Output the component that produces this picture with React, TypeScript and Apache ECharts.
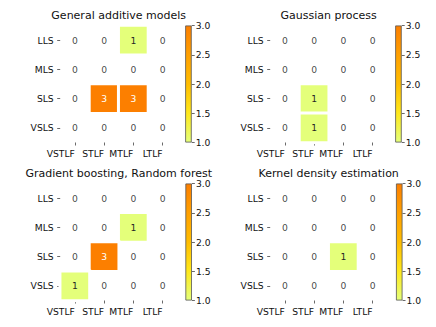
import React, { useEffect, useRef } from "react";
import * as echarts from "echarts";

const colLabels = ["VSTLF", "STLF", "MTLF", "LTLF"];
const rowLabels = ["LLS", "MLS", "SLS", "VSLS"];

const gamValues = [
  [0, 0, 1, 0],
  [0, 0, 0, 0],
  [0, 3, 3, 0],
  [0, 0, 0, 0],
];
const gpValues = [
  [0, 0, 0, 0],
  [0, 0, 0, 0],
  [0, 1, 0, 0],
  [0, 1, 0, 0],
];
const gbrfValues = [
  [0, 0, 0, 0],
  [0, 0, 1, 0],
  [0, 3, 0, 0],
  [1, 0, 0, 0],
];
const kdeValues = [
  [0, 0, 0, 0],
  [0, 0, 0, 0],
  [0, 0, 1, 0],
  [0, 0, 0, 0],
];

const titles = [
  "General additive models",
  "Gaussian process",
  "Gradient boosting, Random forest",
  "Kernel density estimation",
];
const panelValues = [gamValues, gpValues, gbrfValues, kdeValues];

const colorMin = 1;
const colorMax = 3;
const colorStep = 0.5;

const wistia = ["#e4ff7a", "#ffe81a", "#ffbd00", "#ffa000", "#fc7f00"];

// layout (pixels)
const panels = [
  { left: 60.2, top: 25.5, cbLeft: 185.2, titleTop: 9.5 },
  { left: 270.2, top: 25.5, cbLeft: 395.2, titleTop: 9.5 },
  { left: 60.2, top: 183.5, cbLeft: 185.4, titleTop: 167.5 },
  { left: 270.2, top: 183.5, cbLeft: 396, titleTop: 167.5 },
];
const gridSize = 117;
const cbWidth = 6.5;

const FONT = "DejaVu Sans";

function buildOption() {
  const grid: any[] = [];
  const xAxis: any[] = [];
  const yAxis: any[] = [];
  const series: any[] = [];
  const visualMap: any[] = [];
  const title: any[] = [];

  panels.forEach((p, i) => {
    grid.push({ left: p.left, top: p.top, width: gridSize, height: gridSize, containLabel: false });
    xAxis.push({
      type: "category",
      gridIndex: i * 2,
      data: colLabels,
      position: "bottom",
      axisLine: { show: false },
      axisTick: { show: true, alignWithLabel: true, length: 3, lineStyle: { color: "#444", width: 0.8 } },
      axisLabel: {
        interval: 0,
        hideOverlap: false,
        align: "right",
        margin: 6,
        fontSize: 9.2,
        fontFamily: FONT,
        color: "#111",
      },
      splitLine: { show: false },
    });
    yAxis.push({
      type: "category",
      gridIndex: i * 2,
      data: rowLabels,
      inverse: true,
      axisLine: { show: false },
      axisTick: { show: true, alignWithLabel: true, length: 3, lineStyle: { color: "#444", width: 0.8 } },
      axisLabel: { interval: 0, margin: 6.5, fontSize: 9.2, fontFamily: FONT, color: "#111" },
      splitLine: { show: false },
    });
    grid.push({ left: p.cbLeft, top: p.top, width: cbWidth, height: gridSize, containLabel: false });
    xAxis.push({
      type: "category",
      gridIndex: i * 2 + 1,
      data: ["cb"],
      show: false,
    });
    yAxis.push({
      type: "value",
      gridIndex: i * 2 + 1,
      position: "right",
      min: colorMin,
      max: colorMax,
      interval: colorStep,
      axisLine: { show: false },
      splitLine: { show: false },
      axisTick: { show: true, length: 3, lineStyle: { color: "#444", width: 0.8 } },
      axisLabel: {
        margin: 4,
        fontSize: 9.2,
        fontFamily: FONT,
        color: "#111",
        formatter: (v: number) => v.toFixed(1),
      },
    });

    const heatData: any[] = [];
    const zeroData: any[] = [];
    panelValues[i].forEach((row, r) => {
      row.forEach((v, c) => {
        if (v > 0) {
          heatData.push({
            value: [c, r, v],
            label: { color: v >= 2.5 ? "#ffffff" : "#262626" },
          });
        } else {
          zeroData.push([c, r, v]);
        }
      });
    });

    const heatIndex = series.length;
    series.push({
      type: "heatmap",
      xAxisIndex: i * 2,
      yAxisIndex: i * 2,
      data: heatData,
      itemStyle: { borderColor: "#ffffff", borderWidth: 3 },
      label: {
        show: true,
        fontSize: 9.2,
        fontFamily: FONT,
        formatter: (prm: any) => String(prm.value[2]),
      },
      emphasis: { disabled: true },
    });
    visualMap.push({
      type: "continuous",
      show: false,
      seriesIndex: heatIndex,
      dimension: 2,
      min: colorMin,
      max: colorMax,
      inRange: { color: wistia },
    });
    series.push({
      type: "scatter",
      xAxisIndex: i * 2,
      yAxisIndex: i * 2,
      data: zeroData,
      symbolSize: 0,
      itemStyle: { color: "rgba(0,0,0,0)" },
      label: {
        show: true,
        position: "inside",
        fontSize: 9.2,
        fontFamily: FONT,
        color: "#111",
        formatter: (prm: any) => String(prm.value[2]),
      },
      emphasis: { disabled: true },
      silent: true,
    });

    series.push({
      type: "bar",
      xAxisIndex: i * 2 + 1,
      yAxisIndex: i * 2 + 1,
      stack: "cb" + i,
      data: [colorMin],
      barWidth: "100%",
      itemStyle: { color: "rgba(0,0,0,0)" },
      silent: true,
    });
    series.push({
      type: "bar",
      xAxisIndex: i * 2 + 1,
      yAxisIndex: i * 2 + 1,
      stack: "cb" + i,
      data: [colorMax - colorMin],
      barWidth: "100%",
      itemStyle: {
        color: new echarts.graphic.LinearGradient(
          0,
          1,
          0,
          0,
          wistia.map((c, k) => ({ offset: k / (wistia.length - 1), color: c }))
        ),
        borderColor: "#555",
        borderWidth: 0.8,
      },
      silent: true,
    });

    title.push({
      text: titles[i],
      left: p.left + gridSize / 2,
      top: p.titleTop,
      textAlign: "center",
      padding: 0,
      textStyle: { fontSize: 11, fontWeight: "normal", fontFamily: FONT, color: "#111" },
    });
  });

  return {
    animation: false,
    backgroundColor: "#ffffff",
    textStyle: { fontFamily: FONT },
    title,
    grid,
    xAxis,
    yAxis,
    visualMap,
    series,
  };
}

export default function App() {
  const ref = useRef<HTMLDivElement>(null);
  useEffect(() => {
    if (!ref.current) return;
    const chart = echarts.init(ref.current, undefined, { renderer: "svg" });
    chart.setOption(buildOption() as any);
    return () => chart.dispose();
  }, []);
  return (
    <div
      ref={ref}
      style={{ position: "absolute", left: 0, top: 0, width: 436, height: 327 }}
    />
  );
}
